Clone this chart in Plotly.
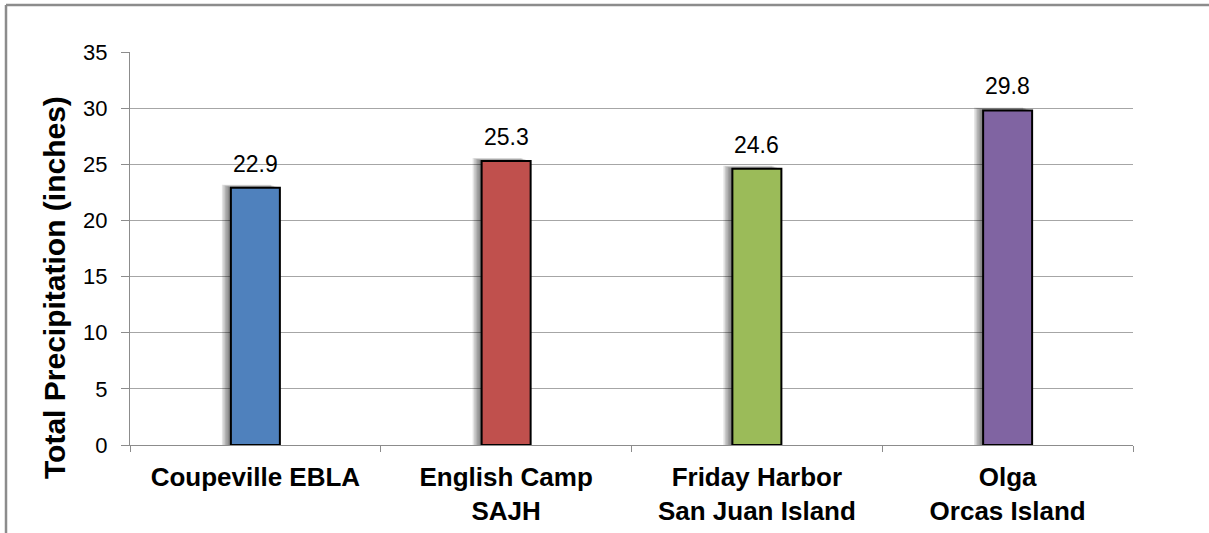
import plotly.graph_objects as go

# Station names (two-line labels) and total precipitation in inches
stations = ["Coupeville EBLA", "English Camp<br>SAJH", "Friday Harbor<br>San Juan Island", "Olga<br>Orcas Island"]
precip = [22.9, 25.3, 24.6, 29.8]
bar_colors = ["#4F81BD", "#C0504D", "#9BBB59", "#8064A2"]
y_ticks = [0, 5, 10, 15, 20, 25, 30, 35]

FONT = "Liberation Sans, Arial"
W, H = 1209, 533
M_L, M_R, M_T, M_B = 130, 76, 52, 88
plot_w = W - M_L - M_R
plot_h = H - M_T - M_B
cat_px = plot_w / len(stations)
bar_w = 49 / cat_px  # bar width in category units
px = 1 / cat_px       # one pixel in category units
y_px = 35 / plot_h

fig = go.Figure()

# soft drop shadow to the upper left of each bar
for k in range(6):
    fig.add_trace(go.Bar(
        x=stations,
        y=[v + (k + 1) * 0.5 * y_px for v in precip],
        width=bar_w,
        offset=-bar_w / 2 - (k + 1) * 1.5 * px,
        marker=dict(color="rgba(0,0,0,0.11)", line=dict(width=0)),
        hoverinfo="skip",
        showlegend=False,
    ))

fig.add_trace(go.Bar(
    x=stations,
    y=precip,
    width=bar_w,
    offset=-bar_w / 2,
    marker=dict(color=bar_colors, line=dict(color="#000000", width=2)),
    showlegend=False,
))

# value labels above bars
for s, v in zip(stations, precip):
    fig.add_annotation(
        x=s, y=v, text=f"{v:.1f}", showarrow=False,
        yanchor="bottom", yshift=9,
        font=dict(family=FONT, size=23, color="#000000"),
    )

# y-axis title
fig.add_annotation(
    xref="paper", yref="paper",
    x=(54 - M_L) / plot_w, y=(H - M_B - 288) / plot_h,
    text="<b>Total Precipitation (inches)</b>", textangle=-90,
    showarrow=False, xanchor="center", yanchor="middle",
    font=dict(family=FONT, size=30, color="#000000"),
)

# outer chart frame (top and left edges)
fig.add_shape(type="line", xref="paper", yref="paper",
              x0=(6 - M_L) / plot_w, x1=(W + 5 - M_L) / plot_w,
              y0=(H - M_B - 5) / plot_h, y1=(H - M_B - 5) / plot_h,
              line=dict(color="#8C8C8C", width=2.5))
fig.add_shape(type="line", xref="paper", yref="paper",
              x0=(6 - M_L) / plot_w, x1=(6 - M_L) / plot_w,
              y0=(H - M_B - 5) / plot_h, y1=(H - M_B - H - 5) / plot_h,
              line=dict(color="#8C8C8C", width=2.5))

fig.update_layout(
    width=W, height=H,
    margin=dict(l=M_L, r=M_R, t=M_T, b=M_B, pad=0, autoexpand=False),
    barmode="overlay",
    paper_bgcolor="#FFFFFF", plot_bgcolor="#FFFFFF",
    font=dict(family=FONT, color="#000000"),
)
fig.update_xaxes(
    type="category",
    automargin=False,
    tickvals=stations,
    ticktext=[f"<b>{s}</b>" for s in stations],
    tickson="boundaries", ticks="outside", ticklen=6, tickcolor="#8C8C8C",
    showline=True, linecolor="#8C8C8C", linewidth=1,
    showgrid=False,
    tickfont=dict(family=FONT, size=26, color="#000000"),
    ticklabelstandoff=9,
)
fig.update_yaxes(
    range=[0, 35], tickvals=y_ticks,
    automargin=False,
    showgrid=True, gridcolor="#A6A6A6", gridwidth=1,
    showline=True, linecolor="#8C8C8C", linewidth=1,
    ticks="outside", ticklen=8, tickcolor="#8C8C8C",
    tickfont=dict(family=FONT, size=22, color="#000000"),
    ticklabelstandoff=9,
    zeroline=False,
)

fig.write_html("out.html")
